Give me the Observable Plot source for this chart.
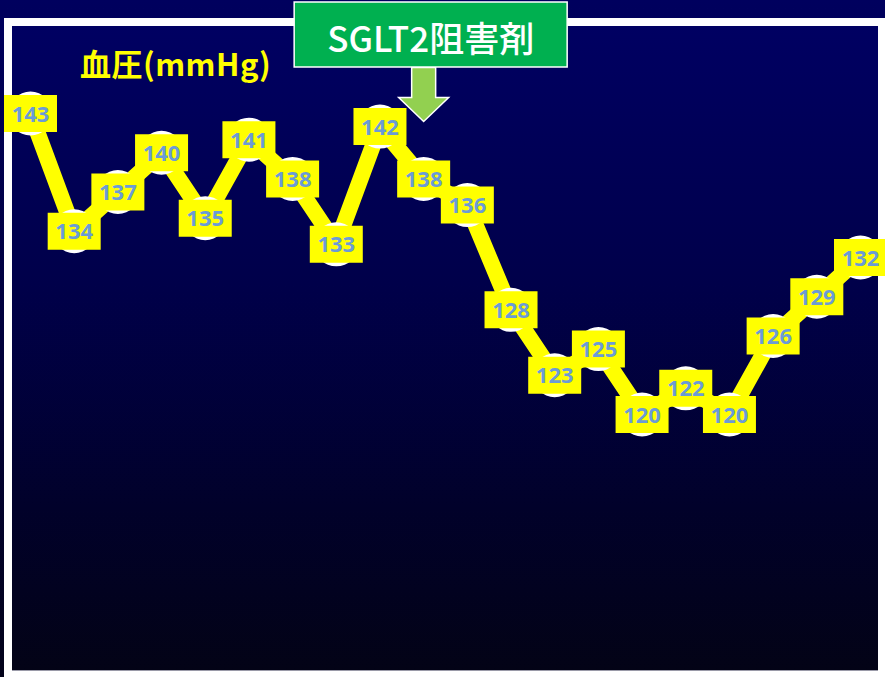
<!DOCTYPE html>
<html>
<head>
<meta charset="utf-8">
<script src="https://cdn.jsdelivr.net/npm/d3@7"></script>
<script src="https://cdn.jsdelivr.net/npm/@observablehq/plot@0.6"></script>
<style>
  html, body { margin: 0; padding: 0; }
  body { width: 885px; height: 677px; overflow: hidden; position: relative;
         background: linear-gradient(#00005e, #02021a); }
  .frame { position: absolute; left: 4px; top: 18px; width: 890px; height: 670px; background: #ffffff; }
  .inner { position: absolute; left: 12px; top: 26px; width: 866px; height: 644px;
           background: linear-gradient(#000062 0%, #00004a 40%, #01012a 75%, #030316 100%);
           border-bottom: 1px solid #9a9aa8; }
  .title { position: absolute; left: 80px; top: 40px; color: #ffff00; font-family: "Noto Sans CJK JP", sans-serif;
           font-weight: bold; font-size: 31px; letter-spacing: 0.5px; white-space: nowrap; }
  #chart { position: absolute; left: 0; top: 0; }
</style>
</head>
<body>
<div class="frame"></div>
<div class="inner"></div>
<div id="chart"></div>
<div class="title">血圧(mmHg)</div>
<script>
// Data
const visits = d3.range(20);
const bloodPressure = [143, 134, 137, 140, 135, 141, 138, 133, 142, 138, 136, 128, 123, 125, 120, 122, 120, 126, 129, 132];
const interventionIndex = 9;
const interventionLabel = "SGLT2阻害剤";

const data = visits.map((v, i) => ({visit: v, bp: bloodPressure[i]}));

const boxSymbol = (w, h) => ({
  draw(ctx) { ctx.moveTo(-w/2, -h/2); ctx.lineTo(w/2, -h/2); ctx.lineTo(w/2, h/2); ctx.lineTo(-w/2, h/2); ctx.closePath(); }
});
const arrowSymbol = {
  draw(ctx) {
    ctx.moveTo(-12, -54); ctx.lineTo(12, -54); ctx.lineTo(12, -24); ctx.lineTo(25, -24);
    ctx.lineTo(0, 0); ctx.lineTo(-25, -24); ctx.lineTo(-12, -24); ctx.closePath();
  }
};

const chart = Plot.plot({
  width: 885,
  height: 677,
  margin: 0,
  style: {background: "transparent", overflow: "visible"},
  x: {domain: [0, 19], range: [30, 860], axis: null},
  y: {domain: [120, 143], range: [414, 113], axis: null},
  marks: [
    Plot.line(data, {x: "visit", y: "bp", stroke: "#ffff00", strokeWidth: 16, strokeLinejoin: "miter"}),
    Plot.dot(data, {x: "visit", y: "bp", r: 22, fill: "#ffffff", stroke: "none"}),
    Plot.dot(data, {x: "visit", y: "bp", symbol: boxSymbol(53, 37), fill: "#ffff00", stroke: "none"}),
    Plot.text(data, {x: "visit", y: "bp", text: d => String(d.bp), fill: "#6b9bd6",
      fontSize: 22, fontWeight: "bold", fontFamily: "'Open Sans', sans-serif", dy: 1}),
    Plot.dot([interventionIndex], {x: d => d, frameAnchor: "top", dy: 121, symbol: arrowSymbol,
      fill: "#92d050", stroke: "#ffffff", strokeWidth: 1.5}),
    Plot.dot([interventionIndex], {x: d => d, frameAnchor: "top", dy: 34, dx: 7, symbol: boxSymbol(273, 65),
      fill: "#00b050", stroke: "#ffffff", strokeWidth: 1.5}),
    Plot.text([interventionLabel], {x: () => interventionIndex, frameAnchor: "top", dy: 27, dx: 7, text: d => d,
      fill: "#ffffff", fontSize: 35, fontWeight: "500", fontFamily: "'Noto Sans CJK JP', sans-serif"})
  ]
});
document.getElementById("chart").appendChild(chart);
</script>
</body>
</html>
